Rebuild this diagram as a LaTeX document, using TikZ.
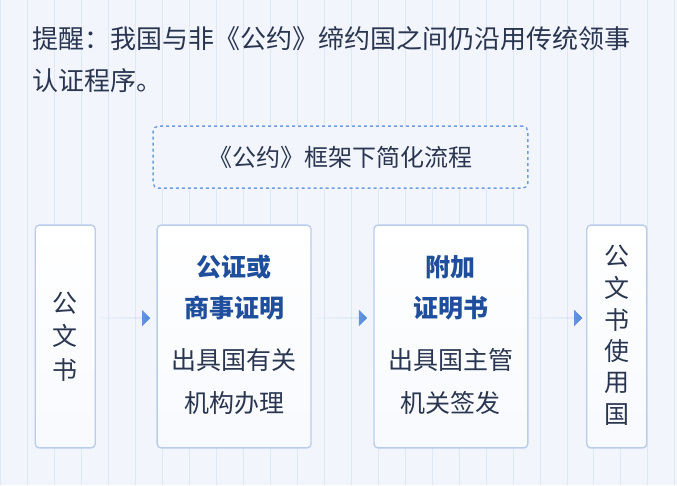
\documentclass[tikz,border=0pt]{standalone}
\usepackage{fontspec}
\setmainfont{Noto Sans CJK SC}
\usetikzlibrary{shapes.arrows}
\definecolor{bg}{HTML}{F2F6FC}
\definecolor{gridc}{HTML}{DFE7F4}
\definecolor{txt}{HTML}{2A3550}
\definecolor{hd}{HTML}{1E4E9C}
\definecolor{bd}{HTML}{B9CDEB}
\definecolor{arr}{HTML}{4F86D9}
\begin{document}
\begin{tikzpicture}[x=1pt,y=-1pt,
  box/.style={draw=bd,line width=1.4pt,rounded corners=4pt,top color=white,bottom color=bg!60!white,minimum height=223pt},
  arrw/.style={single arrow,draw=none,left color=arr!30,right color=arr,minimum height=50pt,minimum width=15pt,single arrow head extend=8pt,inner sep=0pt},
  t/.style={text=txt,font=\fontsize{25}{27}\selectfont},
  h/.style={text=hd,font=\fontsize{25}{27}\selectfont\bfseries}]
\fill[bg] (0,0) rectangle (677,485);
\draw[gridc,line width=0.6pt,step=27] (0,0) grid (677,485);
\useasboundingbox (0,0) rectangle (677,485);
\node[t,anchor=west,font=\fontsize{26}{28}\selectfont] (l1) at (29,38) {提醒：我国与非《公约》缔约国之间仍沿用传统领事};
\node[t,anchor=west,font=\fontsize{26}{28}\selectfont] (l2) at (29,80) {认证程序。};
\node[draw=arr!80,dashed,line width=1.4pt,rounded corners=5pt,fill=bg,minimum width=375pt,minimum height=62pt,t,font=\fontsize{24}{26}\selectfont] (fw) at (340.5,157) {《公约》框架下简化流程};
\node[box,minimum width=60pt] (b1) at (65,336.5) {};
\node[box,minimum width=154pt] (b2) at (234,336.5) {};
\node[box,minimum width=154pt] (b3) at (451,336.5) {};
\node[box,minimum width=60pt] (b4) at (617,336.5) {};
\node[t] (b1a) at (65,303) {公};
\node[t] (b1b) at (65,336) {文};
\node[t] (b1c) at (65,370) {书};
\node[h] (b2a) at (234,267) {公证或};
\node[h] (b2b) at (234,308) {商事证明};
\node[t] (b2c) at (234,360) {出具国有关};
\node[t] (b2d) at (234,403) {机构办理};
\node[h] (b3a) at (451,267) {附加};
\node[h] (b3b) at (451,308) {证明书};
\node[t] (b3c) at (451,360) {出具国主管};
\node[t] (b3d) at (451,403) {机关签发};
\foreach \c [count=\i from 0] in {公,文,书,使,用,国}
  \node[t] (b4\i) at (617,256+\i*31.8) {\c};
\node[arrw] (a1) at (125,318) {};
\node[arrw] (a2) at (342,318) {};
\node[arrw] (a3) at (557.5,318) {};
\end{tikzpicture}
\end{document}
